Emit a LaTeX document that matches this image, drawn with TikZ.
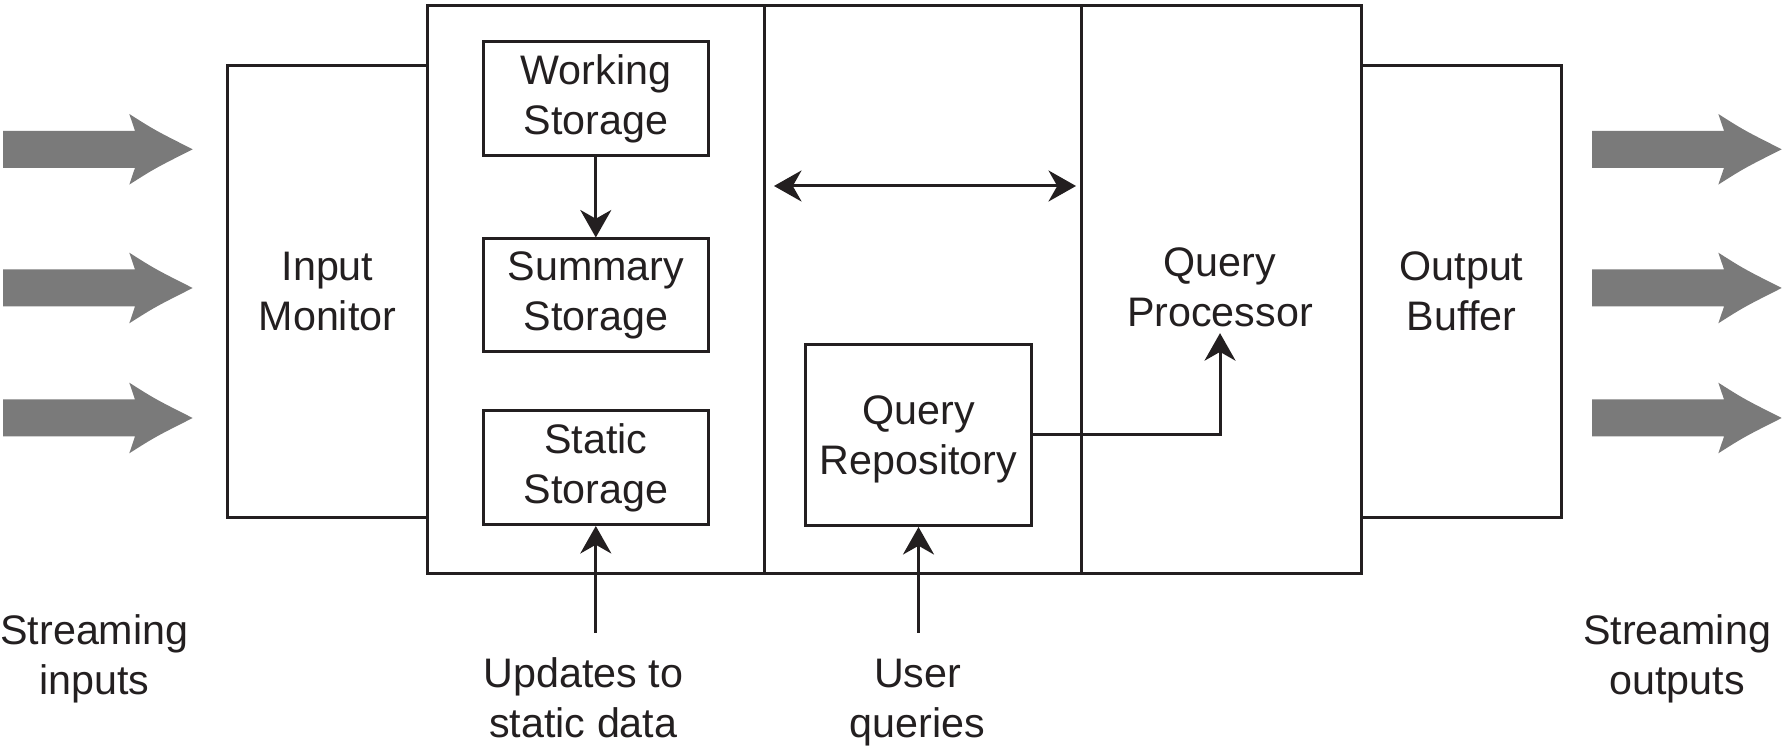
\documentclass[tikz,border=0pt]{standalone}
\usepackage{fontspec}
\setmainfont{Liberation Sans}
\usetikzlibrary{arrows.meta,calc}
\definecolor{arrowgray}{HTML}{7A7A7A}
\definecolor{linecol}{HTML}{231F20}
\begin{document}
\begin{tikzpicture}[x=0.4pt,y=-0.4pt,
  box/.style={draw=linecol, line width=1.2pt, inner sep=0pt, align=center,
    font=\fontsize{16.5pt}{20pt}\selectfont, text=linecol},
  lbl/.style={inner sep=0pt, align=center, text depth=0pt,
    font=\fontsize{16.5pt}{20pt}\selectfont, text=linecol},
  arr/.style={draw=linecol, line width=1.2pt, -{Stealth[length=11pt,width=12.4pt,inset=3.5pt]}},
  dbl/.style={draw=linecol, line width=1.2pt,
    {Stealth[length=11pt,width=12.4pt,inset=3.5pt]}-{Stealth[length=11pt,width=12.4pt,inset=3.5pt]}},
  bigarrow/.pic={\fill[arrowgray] (0,-18.5) -- (132,-18.5) -- (126.3,-35.3)
     .. controls (152,-19) .. (189.7,0) .. controls (152,19) .. (126.3,35.3)
     -- (132,18.5) -- (0,18.5) -- cycle;}
]
\useasboundingbox (0,0) rectangle (1783,750);

% big gray arrows
\pic at (3,149.3) {bigarrow};
\pic at (3,288) {bigarrow};
\pic at (3,418) {bigarrow};
\pic at (1592,149.3) {bigarrow};
\pic at (1592,288) {bigarrow};
\pic at (1592,418) {bigarrow};

% outer blocks
\node[box, minimum width=80pt, minimum height=180.4pt] (inmon) at (327.5,291.5) {Input\\Monitor};
\node[box, minimum width=80pt, minimum height=180.4pt] (outbuf) at (1461.5,291.5) {Output\\Buffer};

% main panels
\node[box, minimum width=134.6pt, minimum height=227.3pt] (store) at (595.75,289.85) {};
\node[box, minimum width=126.8pt, minimum height=227.3pt] (mid) at (922.5,289.85) {};
\node[box, minimum width=112.2pt, minimum height=227.3pt] (proc) at (1221.25,289.85) {};
\node[lbl] (qp) at (1220,287) {Query\\Processor};

% storage boxes
\node[box, minimum width=90pt, minimum height=45.6pt] (ws) at (595.8,99) {Working\\Storage};
\node[box, minimum width=90pt, minimum height=45.2pt] (ss) at (595.8,295.5) {Summary\\Storage};
\node[box, minimum width=90pt, minimum height=45.6pt] (st) at (595.8,467.5) {Static\\Storage};

% query repository
\node[box, text depth=0pt, minimum width=90.4pt, minimum height=72.4pt] (qr) at (918.5,435) {Query\\Repository};

% bottom labels
\node[lbl] (sin) at (94.4,654.5) {Streaming\\inputs};
\node[lbl] (upd) at (583.3,698) {Updates to\\static data};
\node[lbl] (uq) at (917.6,698) {User\\queries};
\node[lbl] (sout) at (1677,654.5) {Streaming\\outputs};

% connectors
\coordinate (updtop) at (595.8,633);
\coordinate (uqtop) at (918.5,633);
\coordinate (da) at (774,186);
\coordinate (db) at (1076,186);

\draw[arr] (ws) -- (ss);
\draw[arr] (updtop) -- (st.south);
\draw[arr] (uqtop) -- (qr.south);
\draw[dbl] (da) -- (db);
\draw[arr] (qr.east) -| ([yshift=-2.5pt]qp.south);
\end{tikzpicture}
\end{document}
